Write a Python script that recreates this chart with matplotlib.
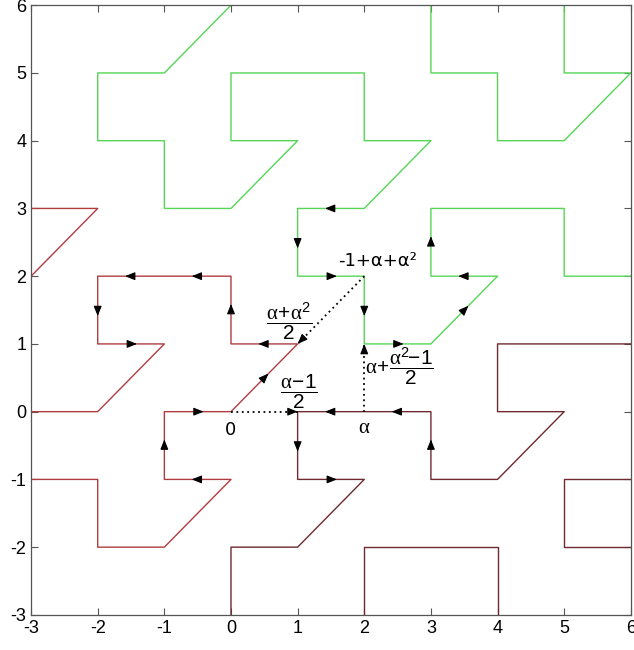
import matplotlib
matplotlib.use('Agg')
import matplotlib.pyplot as plt

plt.rcParams['axes.unicode_minus'] = False
plt.rcParams['mathtext.fontset'] = 'custom'
plt.rcParams['mathtext.rm'] = 'Liberation Sans'
plt.rcParams['mathtext.it'] = 'Liberation Serif'
plt.rcParams['mathtext.bf'] = 'Liberation Sans:bold'

# tile boundaries (polylines), x/y vertex lists
red_paths = [
    ([-3, -2, -1, -2, -2, 0, 0, 1, 0, -1, -1, 0, -1, -2, -2, -3],
     [0, 0, 1, 1, 2, 2, 1, 1, 0, 0, -1, -1, -2, -2, -1, -1]),
    ([-3, -2, -3], [3, 3, 2]),
]
dark_paths = [
    ([0, 0, 1, 2, 1, 1, 3, 3, 4, 5, 4, 4, 6],
     [-3, -2, -2, -1, -1, 0, 0, -1, -1, 0, 0, 1, 1]),
    ([2, 2, 4, 4], [-3, -2, -2, -3]),
    ([6, 5, 5, 6], [-1, -1, -2, -2]),
]
green_paths = [
    ([0, -1, -2, -2, -1, -1, 0, 1, 0, 0, 2, 2, 3, 2, 1, 1, 2, 2, 3, 4, 3, 3, 5, 5, 6],
     [6, 5, 5, 4, 4, 3, 3, 4, 4, 5, 5, 4, 4, 3, 3, 2, 2, 1, 1, 2, 2, 3, 3, 2, 2]),
    ([3, 3, 4, 4, 5, 6, 5, 5], [6, 5, 5, 4, 4, 5, 5, 6]),
]

# direction arrows on the boundary: position and direction
arrow_x = [-1.5, -2, -1.5, -0.5, 0, 0.5, 0.5, -0.5, -1, -0.5, 1.5, 2.5, 1, 1.5, 3,
           1.5, 1, 1.5, 2, 2.5, 3.5, 3.5, 3]
arrow_y = [1, 1.5, 2, 2, 1.5, 1, 0.5, 0, -0.5, -1, 0, 0, -0.5, -1, -0.5,
           3, 2.5, 2, 1.5, 1, 1.5, 2, 2.5]
arrow_dx = [1, 0, -1, -1, 0, -1, 1, 1, 0, -1, -1, -1, 0, 1, 0,
            -1, 0, 1, 0, 1, 1, -1, 0]
arrow_dy = [0, -1, 0, 0, 1, 0, 1, 0, 1, 0, 0, 0, -1, 0, 1,
            0, -1, 0, -1, 0, 1, 0, 1]

# dotted vectors (start -> end)
vec_x0 = [0, 2, 2]
vec_y0 = [0, 2, 0]
vec_x1 = [1, 1, 2]
vec_y1 = [0, 1, 1]

labels = ['0', r'$\alpha$', r'$\dfrac{\alpha\!-\!1}{2}$', r'$\dfrac{\alpha\!+\!\alpha^2}{2}$',
          '-1+α+α²', r'$\alpha\!+\!\dfrac{\alpha^2\!\!-\!1}{2}$']
label_x = [0, 2, 1.02, 0.88, 2.2, 2.53]
label_y = [-0.27, -0.22, 0.29, 1.33, 2.22, 0.67]
label_size = [13, 15, 15, 15, 13, 15]

fig = plt.figure(figsize=(6.34, 6.5), dpi=100)
ax = fig.add_axes([0.049, 0.054, 0.946, 0.938])

for xs, ys in red_paths:
    ax.plot(xs, ys, color='#b03c40', lw=1.0)
for xs, ys in dark_paths:
    ax.plot(xs, ys, color='#6e2a2e', lw=1.0)
for xs, ys in green_paths:
    ax.plot(xs, ys, color='#55d655', lw=1.0)

for x, y, dx, dy in zip(arrow_x, arrow_y, arrow_dx, arrow_dy):
    n = (dx * dx + dy * dy) ** 0.5
    ux, uy = dx / n, dy / n
    ax.annotate('', xy=(x + 0.09 * ux, y + 0.09 * uy), xytext=(x - 0.02 * ux, y - 0.02 * uy),
                arrowprops=dict(arrowstyle='-|>,head_length=0.5,head_width=0.2', color='black',
                                lw=0.8, mutation_scale=12, shrinkA=0, shrinkB=0))

for x0, y0, x1, y1 in zip(vec_x0, vec_y0, vec_x1, vec_y1):
    ax.plot([x0, x1], [y0, y1], color='black', lw=1.3, linestyle=(0, (1, 2)))
    ax.annotate('', xy=(x1, y1), xytext=(x1 - 0.1 * (x1 - x0), y1 - 0.1 * (y1 - y0)),
                arrowprops=dict(arrowstyle='-|>,head_length=0.5,head_width=0.2', color='black',
                                lw=0.8, mutation_scale=12, shrinkA=0, shrinkB=0))

for t, x, y, s in zip(labels, label_x, label_y, label_size):
    ax.text(x, y, t, ha='center', va='center', fontsize=s, color='black',
            family='DejaVu Sans')

ax.set_xlim(-3, 6)
ax.set_ylim(-3, 6)
ax.set_xticks(range(-3, 7))
ax.set_yticks(range(-3, 7))
ax.tick_params(direction='in', top=True, right=True, length=5, width=0.8,
               color='#555555', labelsize=13)
for lab in ax.get_xticklabels() + ax.get_yticklabels():
    lab.set_family('Liberation Sans')
for sp in ax.spines.values():
    sp.set_color('#555555')
    sp.set_linewidth(0.9)

fig.savefig('out.png', dpi=100, facecolor='white')
